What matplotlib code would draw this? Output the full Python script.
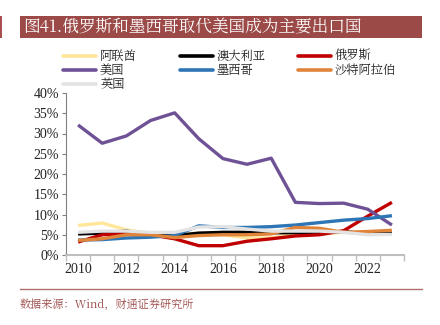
import matplotlib
matplotlib.use("Agg")
import matplotlib.pyplot as plt
from matplotlib.lines import Line2D
from matplotlib.patches import Rectangle
import numpy as np

plt.rcParams['font.family'] = ['Noto Sans CJK SC', 'DejaVu Sans']

years = list(range(2010, 2024))
series_names = ["阿联酋", "澳大利亚", "俄罗斯", "美国", "墨西哥", "沙特阿拉伯", "英国"]
colors = ["#FFE699", "#000000", "#C00000", "#6F5295", "#2E75B6", "#E0843A", "#E3E3E3"]

uae = [7.3, 7.9, 6.2, 5.3, 5.0, 5.4, 5.0, 4.2, 4.2, 5.2, 5.2, 5.6, 5.2, 5.4]
australia = [5.2, 5.4, 5.9, 5.0, 4.8, 5.4, 5.6, 5.6, 5.5, 5.5, 5.6, 5.8, 5.2, 5.5]
russia = [3.2, 5.0, 5.2, 5.0, 4.0, 2.3, 2.3, 3.4, 4.0, 4.7, 5.0, 6.0, 9.6, 13.0]
usa = [32.1, 27.6, 29.4, 33.2, 35.1, 28.7, 23.8, 22.4, 23.9, 13.0, 12.7, 12.8, 11.3, 7.4]
mexico = [3.7, 3.8, 4.2, 4.4, 4.8, 7.2, 6.8, 6.8, 7.0, 7.4, 8.0, 8.6, 9.0, 9.7]
saudi = [3.6, 4.0, 5.0, 5.0, 4.3, 4.8, 5.0, 5.0, 5.2, 6.8, 6.6, 5.6, 5.8, 6.1]
uk = [5.6, 5.9, 5.9, 5.6, 5.6, 6.9, 7.0, 6.4, 5.9, 5.9, 5.9, 5.6, 5.0, 5.1]
all_series = [uae, australia, russia, usa, mexico, saudi, uk]

yticks = [0, 5, 10, 15, 20, 25, 30, 35, 40]
ytick_labels = ["0%", "5%", "10%", "15%", "20%", "25%", "30%", "35%", "40%"]
xtick_years = [2010, 2012, 2014, 2016, 2018, 2020, 2022]

W, H = 440, 325
fig = plt.figure(figsize=(W / 100, H / 100), dpi=100)
fig.patch.set_facecolor("white")
CJK = ["Noto Serif CJK SC", "Noto Sans CJK SC", "DejaVu Sans"]

def fx(px):
    return px / W

def fy(py):
    return 1 - py / H

# title bar
fig.patches.append(Rectangle((fx(20), fy(38)), fx(422) - fx(20), fy(16) - fy(38),
                             transform=fig.transFigure, facecolor="#9B4A48", edgecolor="none"))
fig.patches.append(Rectangle((fx(0), fy(38)), fx(2), fy(16) - fy(38),
                             transform=fig.transFigure, facecolor="#A85050", edgecolor="none"))
fig.text(fx(23), fy(27.5), "图41.俄罗斯和墨西哥取代美国成为主要出口国", color="white",
         fontsize=12, va="center", ha="left", family=CJK)

# axes
ax = fig.add_axes([fx(66), fy(255), fx(404) - fx(66), fy(93) - fy(255)])
x = np.arange(len(years))
for vals, c in zip(all_series, colors):
    ax.plot(x, vals, color=c, lw=2.4, solid_capstyle="butt", solid_joinstyle="round")

ax.set_xlim(-0.5, len(years) - 0.5)
ax.set_ylim(0, 40)
ax.set_yticks(yticks)
ax.set_yticklabels(ytick_labels, family="Liberation Serif", fontsize=10, color="#222222")
ax.set_xticks(np.arange(-0.5, len(years), 1.0))
ax.set_xticklabels([])
ax.set_xticks([years.index(y) for y in xtick_years], minor=True)
ax.set_xticklabels([str(y) for y in xtick_years], minor=True, family="Liberation Serif",
                   fontsize=10, color="#222222")
ax.tick_params(axis="x", which="major", length=4, color="#BFBFBF", width=1, direction="out")
ax.tick_params(axis="x", which="minor", length=0, pad=6)
ax.tick_params(axis="y", length=3, color="#808080", width=0.8, pad=2)
for s in ["top", "right"]:
    ax.spines[s].set_visible(False)
ax.spines["left"].set_color("#808080")
ax.spines["left"].set_linewidth(0.8)
ax.spines["bottom"].set_color("#BFBFBF")
ax.spines["bottom"].set_linewidth(1.5)
ax.patch.set_alpha(0)

# legend (manual layout)
col_x = [63, 180, 298]
row_y = [56, 70, 84]
positions = [(0, 0), (1, 0), (2, 0), (0, 1), (1, 1), (2, 1), (0, 2)]
for (ci, ri), name, c in zip(positions, series_names, colors):
    x0 = col_x[ci]
    yy = row_y[ri]
    fig.add_artist(Line2D([fx(x0), fx(x0 + 33)], [fy(yy), fy(yy)], transform=fig.transFigure,
                          color=c, lw=2.6, solid_capstyle="round"))
    fig.text(fx(x0 + 37), fy(yy), name, fontsize=8.8, va="center", ha="left", color="#222222",
             family=CJK)

# footer
fig.add_artist(Line2D([fx(20), fx(422)], [fy(289), fy(289)], transform=fig.transFigure,
                      color="#B07070", lw=1))
fig.text(fx(20), fy(305), "数据来源：Wind，财通证券研究所", fontsize=8, va="center", ha="left",
         color="#9B4A48", family=CJK)

fig.savefig("out.png", dpi=100)
